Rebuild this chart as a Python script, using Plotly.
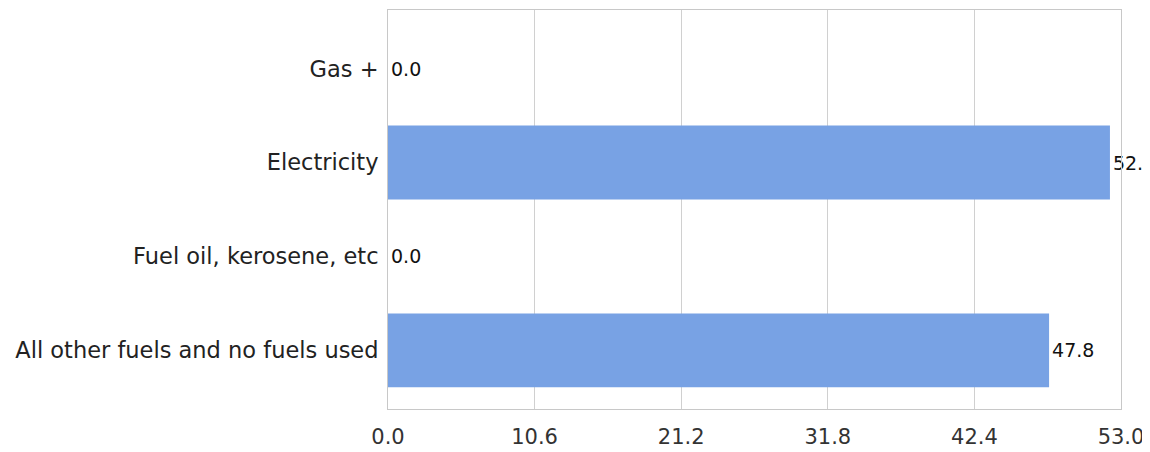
import plotly.graph_objects as go

categories = ["All other fuels and no fuels used", "Fuel oil, kerosene, etc", "Electricity", "Gas +"]
values = [47.8, 0.0, 52.2, 0.0]
tick_values = [0.0, 10.6, 21.2, 31.8, 42.4, 53.0]
tick_labels = [f"{v:.1f}" for v in tick_values]

fig = go.Figure(
    go.Bar(
        y=categories,
        x=values,
        orientation="h",
        width=0.787,
        marker=dict(color="#78A2E4", line=dict(width=0)),
        text=[f"{v:.1f}" for v in values],
        textposition="outside",
        constraintext="none",
        cliponaxis=False,
        textfont=dict(family="DejaVu Sans", size=19, color="#111111"),
    )
)

fig.update_layout(
    width=1150,
    height=452,
    margin=dict(l=380, r=37, t=2, b=51),
    paper_bgcolor="white",
    plot_bgcolor="white",
    showlegend=False,
    font=dict(family="DejaVu Sans", color="#222222"),
)
fig.update_xaxes(
    range=[0, 53],
    tickvals=tick_values,
    ticktext=tick_labels,
    showgrid=True,
    gridcolor="#D0D0D0",
    gridwidth=1,
    zeroline=False,
    showline=True,
    linecolor="#C8C8C8",
    mirror=True,
    ticks="",
    ticklabelstandoff=9,
    tickfont=dict(family="DejaVu Sans", size=21, color="#333333"),
)
fig.update_yaxes(
    type="category",
    categoryorder="array",
    categoryarray=categories,
    range=[-0.625, 3.625],
    showgrid=False,
    zeroline=False,
    showline=True,
    linecolor="#C8C8C8",
    mirror=True,
    ticks="",
    ticklabelstandoff=4,
    tickfont=dict(family="DejaVu Sans", size=22.5, color="#222222"),
)

fig.write_html("out.html")
